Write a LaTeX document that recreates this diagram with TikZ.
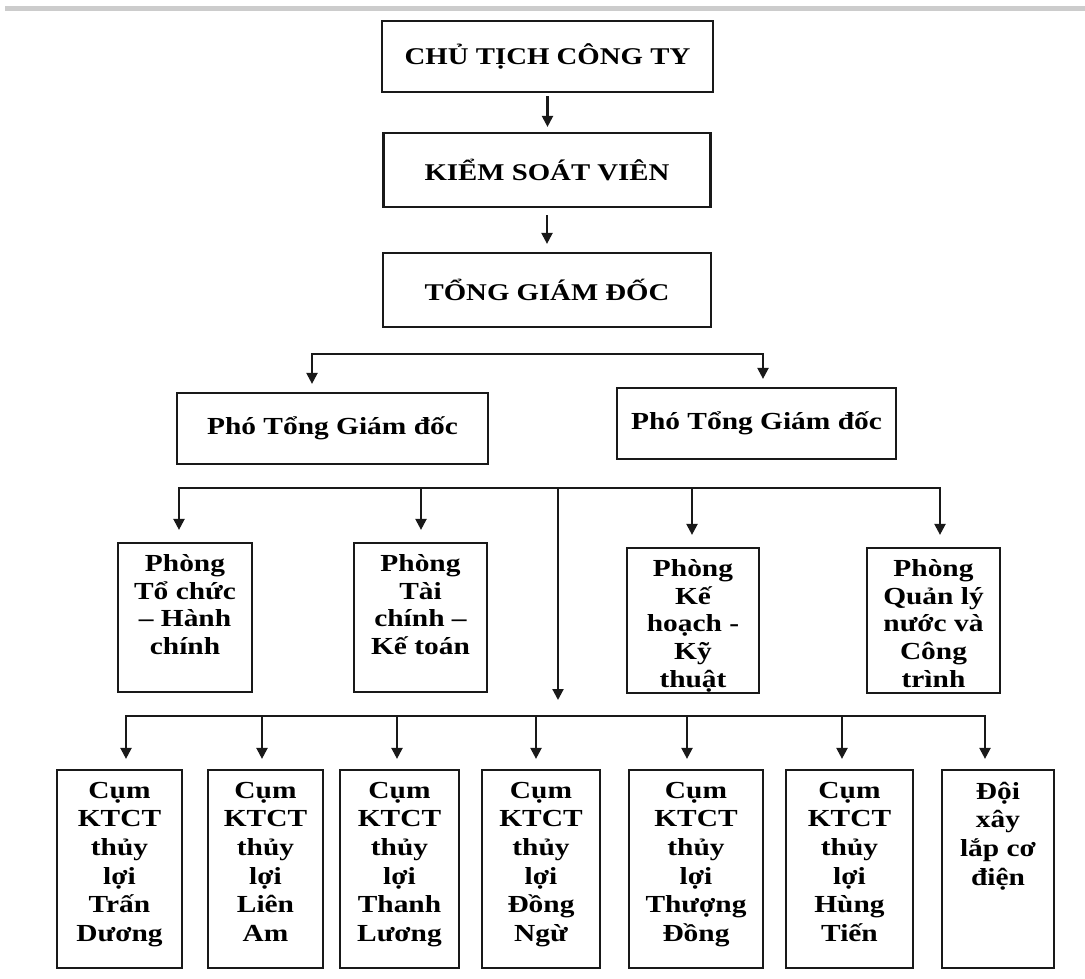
\documentclass[tikz,border=0pt]{standalone}
\usepackage{fontspec}
\setmainfont{Liberation Serif}[FakeStretch=1.2]
\usetikzlibrary{arrows.meta}
\tikzset{
  box/.style={draw=black!90, line width=2.2pt, inner sep=0pt},
  onefont/.style={font=\fontsize{24}{27}\selectfont\bfseries},
  ptfont/.style={font=\fontsize{24.5}{27}\selectfont\bfseries},
  lbl/.style={font=\fontsize{24.5}{27.6}\selectfont\bfseries, align=center, inner sep=0pt, anchor=north},
  lblq/.style={lbl, font=\fontsize{24.5}{28.6}\selectfont\bfseries},
  conn/.style={line width=2.2pt, draw=black!90},
  arr/.style={conn, -{Triangle[length=11pt,width=11pt]}},
}
\begin{document}
\begin{tikzpicture}[x=1pt,y=-1pt]
\useasboundingbox (0,0) rectangle (1085,979);
\fill[white] (0,0) rectangle (1085,979);
\fill[gray!40] (5,6) rectangle (1085,11);

% top chain
\node[box, onefont, minimum width=331, minimum height=71] (ct) at (547.5,56.5) {CHỦ TỊCH CÔNG TY};
\node[box, onefont, minimum width=327, minimum height=74] (ksv) at (547,170) {KIỂM SOÁT VIÊN};
\node[box, onefont, minimum width=328, minimum height=74] (tgd) at (547,290) {TỔNG GIÁM ĐỐC};
\draw[arr, shorten <=3pt, shorten >=5pt] (ct.south) -- (ct.south |- ksv.north);
\draw[arr, shorten <=7pt, shorten >=8pt] (ksv.south) -- (ksv.south |- tgd.north);

% deputies
\node[box, ptfont, minimum width=311, minimum height=71] (p1) at (332.5,428.5) {Phó Tổng Giám đốc};
\node[box, ptfont, minimum width=279, minimum height=71] (p2) at (756.5,423.5) {Phó Tổng Giám đốc};
\coordinate (a1) at (312,354);
\coordinate (a2) at (763,354);
\draw[arr, shorten >=8pt] (a2) -- (a1) -- (a1 |- p1.north);
\draw[arr, shorten >=8pt] (a1) -- (a2) -- (a2 |- p2.north);

% departments
\node[box, minimum width=134, minimum height=149] (ph1) at (185,617.5) {};
\node[box, minimum width=133, minimum height=149] (ph2) at (420.5,617.5) {};
\node[box, minimum width=132, minimum height=145] (ph3) at (693,620.5) {};
\node[box, minimum width=133, minimum height=145] (ph4) at (933.5,620.5) {};
\node[lbl] (tph1) at ([yshift=-12.5pt]ph1.north) {Phòng\\Tổ chức\\– Hành\\chính};
\node[lbl] (tph2) at ([yshift=-12.5pt]ph2.north) {Phòng\\Tài\\chính –\\Kế toán};
\node[lbl] (tph3) at ([yshift=-12.5pt]ph3.north) {Phòng\\Kế\\hoạch -\\Kỹ\\thuật};
\node[lbl] (tph4) at ([yshift=-12.5pt]ph4.north) {Phòng\\Quản lý\\nước và\\Công\\trình};

\coordinate (b1) at (179,488);
\coordinate (b2) at (421,488);
\coordinate (b3) at (558,488);
\coordinate (b4) at (692,488);
\coordinate (b5) at (940,488);
\coordinate (b3e) at (558,700);
\draw[arr, shorten >=12pt] (b5) -- (b1) -- (b1 |- ph1.north);
\draw[arr, shorten >=12pt] (b1) -- (b5) -- (b5 |- ph4.north);
\draw[arr, shorten >=12pt] (b2) -- (b2 |- ph2.north);
\draw[arr, shorten >=12pt] (b4) -- (b4 |- ph3.north);
\draw[arr] (b3) -- (b3e);

% clusters
\node[box, minimum width=125, minimum height=198] (q1) at (119.5,869) {};
\node[box, minimum width=115, minimum height=198] (q2) at (265.5,869) {};
\node[box, minimum width=119, minimum height=198] (q3) at (399.5,869) {};
\node[box, minimum width=118, minimum height=198] (q4) at (541,869) {};
\node[box, minimum width=134, minimum height=198] (q5) at (696,869) {};
\node[box, minimum width=127, minimum height=198] (q6) at (849.5,869) {};
\node[box, minimum width=112, minimum height=198] (q7) at (998,869) {};
\node[lblq] (tq1) at ([yshift=-13pt]q1.north) {Cụm\\KTCT\\thủy\\lợi\\Trấn\\Dương};
\node[lblq] (tq2) at ([yshift=-13pt]q2.north) {Cụm\\KTCT\\thủy\\lợi\\Liên\\Am};
\node[lblq] (tq3) at ([yshift=-13pt]q3.north) {Cụm\\KTCT\\thủy\\lợi\\Thanh\\Lương};
\node[lblq] (tq4) at ([yshift=-13pt]q4.north) {Cụm\\KTCT\\thủy\\lợi\\Đồng\\Ngừ};
\node[lblq] (tq5) at ([yshift=-13pt]q5.north) {Cụm\\KTCT\\thủy\\lợi\\Thượng\\Đồng};
\node[lblq] (tq6) at ([yshift=-13pt]q6.north) {Cụm\\KTCT\\thủy\\lợi\\Hùng\\Tiến};
\node[lblq] (tq7) at ([yshift=-13pt]q7.north) {Đội\\xây\\lắp cơ\\điện};

\coordinate (c1) at (126,716);
\coordinate (c2) at (262,716);
\coordinate (c3) at (397,716);
\coordinate (c4) at (536,716);
\coordinate (c5) at (687,716);
\coordinate (c6) at (842,716);
\coordinate (c7) at (985,716);
\draw[arr, shorten >=10pt] (c7) -- (c1) -- (c1 |- q1.north);
\draw[arr, shorten >=10pt] (c1) -- (c7) -- (c7 |- q7.north);
\draw[arr, shorten >=10pt] (c2) -- (c2 |- q2.north);
\draw[arr, shorten >=10pt] (c3) -- (c3 |- q3.north);
\draw[arr, shorten >=10pt] (c4) -- (c4 |- q4.north);
\draw[arr, shorten >=10pt] (c5) -- (c5 |- q5.north);
\draw[arr, shorten >=10pt] (c6) -- (c6 |- q6.north);
\end{tikzpicture}
\end{document}
